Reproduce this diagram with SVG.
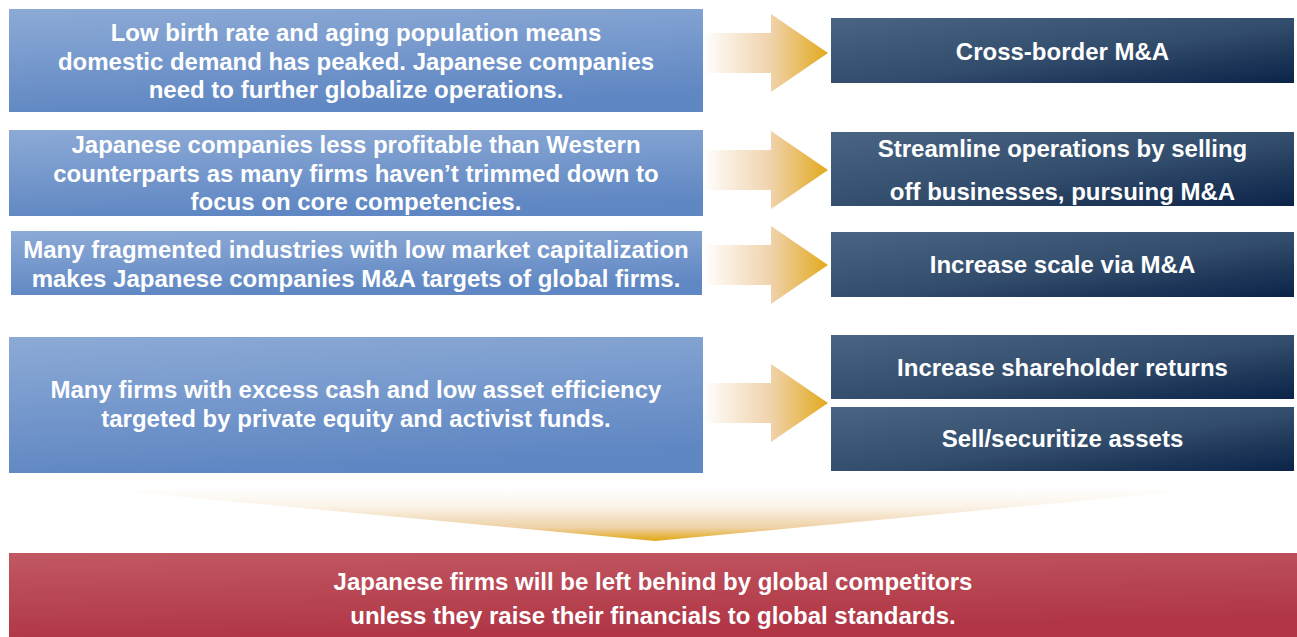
<svg xmlns="http://www.w3.org/2000/svg" width="1297" height="637" viewBox="0 0 1297 637">
  <defs>
    <linearGradient id="gBlue" x1="0" y1="0" x2="0.25" y2="1">
      <stop offset="0" stop-color="#8DAAD6"/>
      <stop offset="1" stop-color="#5F87C3"/>
    </linearGradient>
    <linearGradient id="gNavy" x1="0" y1="0" x2="1" y2="1">
      <stop offset="0" stop-color="#4A6583"/>
      <stop offset="0.55" stop-color="#324C6C"/>
      <stop offset="1" stop-color="#0B2347"/>
    </linearGradient>
    <linearGradient id="gRed" x1="0" y1="0" x2="0.3" y2="1">
      <stop offset="0" stop-color="#C15862"/>
      <stop offset="1" stop-color="#B03545"/>
    </linearGradient>
    <linearGradient id="gArrow" x1="0" y1="0" x2="1" y2="0">
      <stop offset="0" stop-color="#FFFFFF"/>
      <stop offset="0.55" stop-color="#F0D2AA"/>
      <stop offset="1" stop-color="#E2A91C"/>
    </linearGradient>
    <linearGradient id="gDown" x1="0" y1="0" x2="0" y2="1">
      <stop offset="0" stop-color="#FFFFFF"/>
      <stop offset="0.35" stop-color="#FBF3E8"/>
      <stop offset="0.75" stop-color="#EED1A5"/>
      <stop offset="1" stop-color="#E1A712"/>
    </linearGradient>
    <!-- right-pointing block arrow, drawn at origin (tail start) and moved per row -->
    <path id="arrowShape" d="M0,-20 L68,-20 L68,-39 L125,0 L68,39 L68,20 L0,20 Z"/>
  </defs>
  <style>
    .src { fill: url(#gBlue); }
    .act { fill: url(#gNavy); }
    text { font-family: "Liberation Sans", Arial, sans-serif; font-weight: bold; font-size: 24px; fill: #FFFFFF; text-anchor: middle; }
  </style>

  <rect width="1297" height="637" fill="#FFFFFF"/>

  <!-- connectors -->
  <g id="connectors">
    <use href="#arrowShape" x="703" y="53" fill="url(#gArrow)"/>
    <use href="#arrowShape" x="703" y="170" fill="url(#gArrow)"/>
    <use href="#arrowShape" x="703" y="265" fill="url(#gArrow)"/>
    <use href="#arrowShape" x="703" y="403" fill="url(#gArrow)"/>
    <path id="downArrow" d="M88,488 L1216,488 L655,541 Z" fill="url(#gDown)"/>
  </g>

  <!-- left column: drivers -->
  <g id="driver1">
    <rect class="src" x="9" y="9" width="694" height="103"/>
    <text x="356" y="41">Low birth rate and aging population means</text>
    <text x="356" y="69.5">domestic demand has peaked. Japanese companies</text>
    <text x="356" y="98">need to further globalize operations.</text>
  </g>
  <g id="driver2">
    <rect class="src" x="9" y="130" width="694" height="86"/>
    <text x="356" y="153">Japanese companies less profitable than Western</text>
    <text x="356" y="181.5">counterparts as many firms haven’t trimmed down to</text>
    <text x="356" y="210">focus on core competencies.</text>
  </g>
  <g id="driver3">
    <rect class="src" x="11" y="231" width="691" height="64"/>
    <text x="356" y="258">Many fragmented industries with low market capitalization</text>
    <text x="356" y="287">makes Japanese companies M&amp;A targets of global firms.</text>
  </g>
  <g id="driver4">
    <rect class="src" x="9" y="337" width="694" height="136"/>
    <text x="356" y="398">Many firms with excess cash and low asset efficiency</text>
    <text x="356" y="427">targeted by private equity and activist funds.</text>
  </g>

  <!-- right column: responses -->
  <g id="action1">
    <rect class="act" x="831" y="18" width="463" height="65"/>
    <text x="1062.5" y="59.5">Cross-border M&amp;A</text>
  </g>
  <g id="action2">
    <rect class="act" x="831" y="132" width="463" height="74"/>
    <text x="1062.5" y="157">Streamline operations by selling</text>
    <text x="1062.5" y="200">off businesses, pursuing M&amp;A</text>
  </g>
  <g id="action3">
    <rect class="act" x="831" y="232" width="463" height="65"/>
    <text x="1062.5" y="273">Increase scale via M&amp;A</text>
  </g>
  <g id="action4">
    <rect class="act" x="831" y="335" width="463" height="64"/>
    <text x="1062.5" y="376">Increase shareholder returns</text>
  </g>
  <g id="action5">
    <rect class="act" x="831" y="407" width="463" height="64"/>
    <text x="1062.5" y="447">Sell/securitize assets</text>
  </g>

  <!-- conclusion -->
  <g id="conclusion">
    <rect x="9" y="553" width="1288" height="84" fill="url(#gRed)"/>
    <text x="653" y="590">Japanese firms will be left behind by global competitors</text>
    <text x="653" y="624">unless they raise their financials to global standards.</text>
  </g>
</svg>
